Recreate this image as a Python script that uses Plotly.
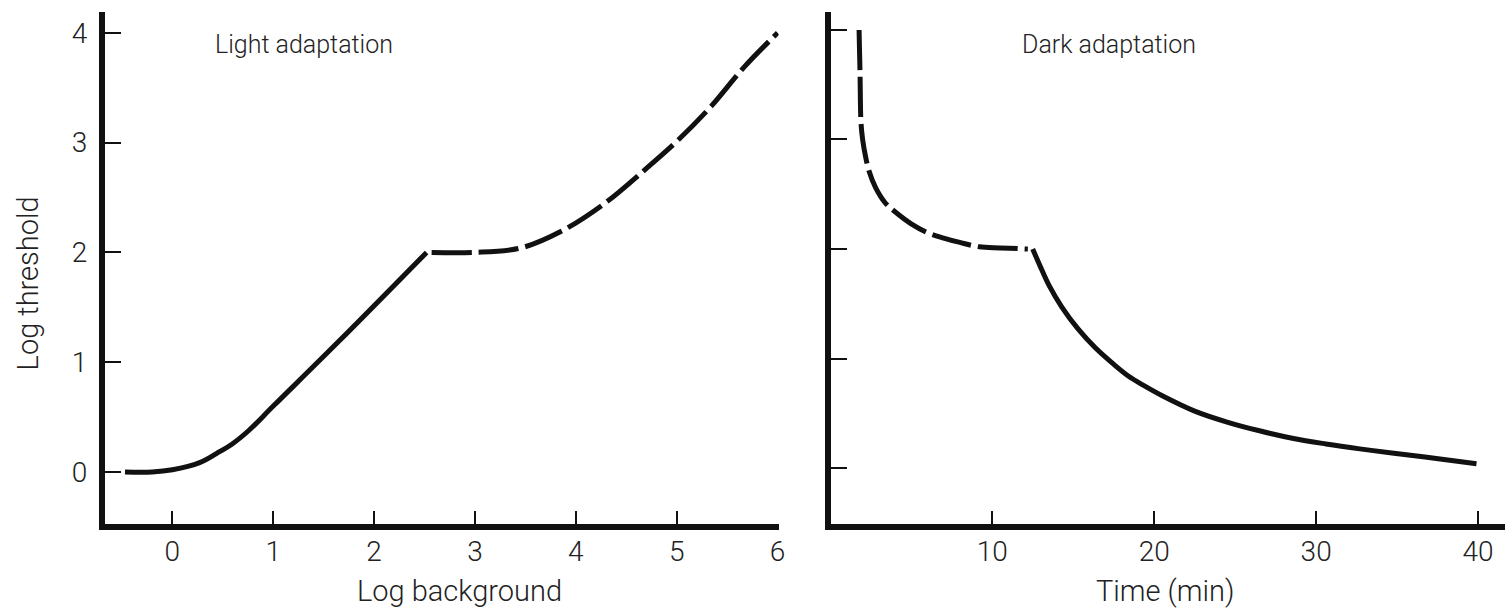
import plotly.graph_objects as go

# ---- Light adaptation: log threshold against log background ----
light_solid_x = [-0.47, -0.2, 0.0, 0.27, 0.44, 0.6, 0.76, 1.0, 1.65, 2.52]
light_solid_y = [0.0, 0.0, 0.02, 0.085, 0.17, 0.26, 0.38, 0.60, 1.19, 2.0]
light_dash_x = [2.57, 3.0, 3.45, 3.85, 4.29, 4.68, 5.01, 5.34, 5.67, 6.0]
light_dash_y = [2.0, 2.0, 2.04, 2.19, 2.45, 2.75, 3.02, 3.33, 3.69, 4.0]

# ---- Dark adaptation: log threshold against time in the dark ----
dark_dash_t = [1.78, 1.84, 1.9, 2.0, 2.2, 2.4, 2.8, 3.4, 4.0, 5.0, 6.0, 7.0, 8.0, 9.2, 10.5, 12.2]
dark_dash_y = [4.0, 3.6, 3.15, 3.0, 2.83, 2.71, 2.56, 2.42, 2.34, 2.23, 2.15, 2.10, 2.06, 2.02, 2.01, 2.0]
dark_solid_t = [12.5, 13.0, 13.5, 14.3, 15.3, 16.35, 17.4, 18.4, 19.4, 20.5, 22.5, 24.5,
                26.5, 28.6, 30.6, 32.7, 34.8, 37.3, 39.9]
dark_solid_y = [2.0, 1.83, 1.67, 1.47, 1.27, 1.10, 0.96, 0.84, 0.75, 0.66, 0.52, 0.42,
                0.34, 0.27, 0.22, 0.175, 0.135, 0.09, 0.04]

# ---- Ticks ----
light_tick_vals = [0, 1, 2, 3, 4, 5]
light_label_vals = [0, 1, 2, 3, 4, 5, 6]
light_label_text = ["0", "1", "2", "3", "4", "5", "6"]
dark_tick_vals = [10, 20, 30, 40]
dark_tick_text = ["10", "20", "30", "40"]
thresh_tick_vals = [0, 1, 2, 3, 4]
thresh_tick_text = ["0", "1", "2", "3", "4"]

INK = "#111111"
TXT = "#222222"
FAMILY = "Roboto, Liberation Sans, Arial, sans-serif"
TICK_FONT = dict(family=FAMILY, size=28, color=TXT, weight=300)
TITLE_FONT = dict(family=FAMILY, size=29, color=TXT, weight=300)
HEAD_FONT = dict(family=FAMILY, size=25, color=TXT, weight=300)
LW = 5
DASH = "40px,7px"

fig = go.Figure()

curve = dict(color=INK, width=LW, shape="spline", smoothing=1.0)
fig.add_trace(go.Scatter(x=light_solid_x, y=light_solid_y, mode="lines",
                         line=curve, xaxis="x", yaxis="y", hoverinfo="skip"))
fig.add_trace(go.Scatter(x=light_dash_x, y=light_dash_y, mode="lines",
                         line=dict(curve, dash=DASH), xaxis="x", yaxis="y", hoverinfo="skip"))
fig.add_trace(go.Scatter(x=dark_dash_t, y=dark_dash_y, mode="lines",
                         line=dict(curve, dash=DASH), xaxis="x2", yaxis="y2", hoverinfo="skip"))
fig.add_trace(go.Scatter(x=dark_solid_t, y=dark_solid_y, mode="lines",
                         line=curve, xaxis="x2", yaxis="y2", hoverinfo="skip"))
# carriers for the label-only x axes of both panels
fig.add_trace(go.Scatter(x=[], y=[], xaxis="x3", yaxis="y", showlegend=False, hoverinfo="skip"))
fig.add_trace(go.Scatter(x=[], y=[], xaxis="x4", yaxis="y2", showlegend=False, hoverinfo="skip"))

W, H = 1512, 611
ML, MR, MT, MB = 105, 0, 12, 87
PW = W - ML - MR
PH = H - MT - MB

LEFT_X_RANGE = [-0.668, 6.01]
RIGHT_X_RANGE = [0.07, 41.66]

axis_common = dict(showline=True, linecolor=INK, linewidth=6, showgrid=False, zeroline=False,
                   ticks="inside", tickcolor=INK, tickwidth=2, tickfont=TICK_FONT, fixedrange=True)
label_axis = dict(showline=False, showgrid=False, zeroline=False, ticks="", tickmode="array",
                  tickfont=TICK_FONT, side="bottom", fixedrange=True, ticklabelstandoff=8)

fig.update_layout(
    width=W, height=H,
    margin=dict(l=ML, r=MR, t=MT, b=MB),
    paper_bgcolor="white", plot_bgcolor="white",
    showlegend=False,
    font=TICK_FONT,
    xaxis=dict(axis_common, domain=[0, (782 - ML) / PW], range=LEFT_X_RANGE, anchor="y",
               tickmode="array", tickvals=light_tick_vals, showticklabels=False, ticklen=13),
    xaxis3=dict(label_axis, overlaying="x", anchor="y", range=LEFT_X_RANGE,
                tickvals=light_label_vals, ticktext=light_label_text),
    yaxis=dict(axis_common, domain=[0, 1], range=[-0.474, 4.19], anchor="x",
               tickmode="array", tickvals=thresh_tick_vals, ticktext=thresh_tick_text,
               ticklen=16, ticklabelstandoff=6),
    xaxis2=dict(axis_common, domain=[(835 - ML) / PW, 1], range=RIGHT_X_RANGE, anchor="y2",
                tickmode="array", tickvals=dark_tick_vals, showticklabels=False, ticklen=13),
    xaxis4=dict(label_axis, overlaying="x2", anchor="y2", range=RIGHT_X_RANGE,
                tickvals=dark_tick_vals, ticktext=dark_tick_text),
    yaxis2=dict(axis_common, domain=[0, 1], range=[-0.511, 4.164], anchor="x2",
                tickmode="array", tickvals=thresh_tick_vals, showticklabels=False, ticklen=16),
)

# Panel headings and axis titles
def note(text, px, py, font, angle=0):
    fig.add_annotation(text=text, xref="paper", yref="paper",
                       x=(px - ML) / PW, y=(H - MB - py) / PH, showarrow=False,
                       font=font, textangle=angle, xanchor="center", yanchor="middle")

note("Light adaptation", 305, 44, HEAD_FONT)
note("Dark adaptation", 1114, 44, HEAD_FONT)
note("Log background", 461, 591, TITLE_FONT)
note("Time (min)", 1171, 591, TITLE_FONT)
note("Log threshold", 28, 283, TITLE_FONT, -90)

fig.write_html("out.html", config={"displayModeBar": False})
